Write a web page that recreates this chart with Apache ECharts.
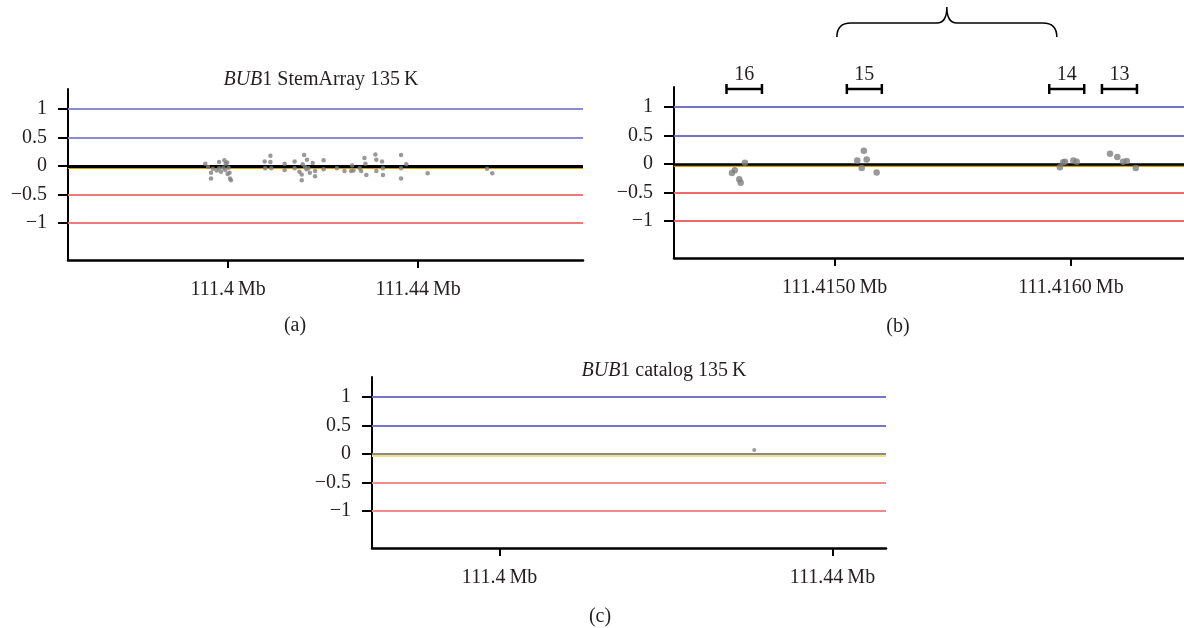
<!DOCTYPE html>
<html>
<head>
<meta charset="utf-8">
<script src="https://cdn.jsdelivr.net/npm/echarts@6/dist/echarts.min.js"></script>
<style>
  html, body { margin: 0; padding: 0; background: #fff; }
  #main { width: 1184px; height: 628px; }
</style>
</head>
<body>
<div id="main"></div>
<script>
// log2 ratio values, positions in Mb
var stemArrayPoints = [
  [111.3952, 0.04], [111.3958, -0.02], [111.3964, -0.12], [111.3964, -0.22], [111.3968, -0.05],
  [111.3976, -0.08], [111.3981, 0.07], [111.3981, -0.04], [111.3985, -0.10], [111.3990, -0.03],
  [111.3992, 0.10], [111.3995, 0.04], [111.3994, -0.07], [111.3998, 0.06], [111.3999, -0.14],
  [111.4001, -0.03], [111.4003, -0.12], [111.4004, -0.22], [111.4006, -0.25],
  [111.4077, 0.08], [111.4078, -0.04], [111.4089, 0.18], [111.4089, 0.07], [111.4091, -0.04],
  [111.4119, 0.04], [111.4119, -0.07], [111.4140, 0.08], [111.4140, -0.04],
  [111.4150, -0.10], [111.4155, -0.15], [111.4155, -0.25], [111.4157, 0.03], [111.4160, 0.19],
  [111.4162, -0.02], [111.4165, -0.06], [111.4166, 0.11], [111.4169, -0.04], [111.4172, -0.12],
  [111.4178, 0.05], [111.4183, -0.09], [111.4183, -0.18], [111.4201, 0.10], [111.4201, -0.06],
  [111.4229, -0.04], [111.4245, -0.09], [111.4259, -0.09], [111.4261, 0.01], [111.4264, -0.08],
  [111.4277, -0.04], [111.4280, -0.09], [111.4287, 0.14], [111.4289, 0.04], [111.4291, -0.16],
  [111.4310, 0.20], [111.4312, 0.11], [111.4312, -0.09], [111.4324, 0.08], [111.4326, -0.04],
  [111.4326, -0.16], [111.4364, 0.19], [111.4364, -0.04], [111.4364, -0.22], [111.4375, 0.03],
  [111.4420, -0.13], [111.4545, -0.05], [111.4556, -0.13]
];
var zoomPoints = [
  [111.414566, -0.16], [111.414578, -0.11], [111.414597, -0.27], [111.414603, -0.33], [111.414621, 0.02],
  [111.415096, 0.06], [111.415115, -0.07], [111.415124, 0.23], [111.415136, 0.08], [111.415178, -0.15],
  [111.415953, -0.06], [111.415967, 0.03], [111.415975, 0.04], [111.416010, 0.06], [111.416024, 0.04],
  [111.416165, 0.18], [111.416196, 0.12], [111.416220, 0.04], [111.416236, 0.05], [111.416274, -0.07]
];
var catalogPoints = [[111.4306, 0.07]];

var exonNames = [16, 15, 14, 13];
var exonStart = [111.414543, 111.415052, 111.415908, 111.416131];
var exonEnd = [111.414693, 111.415200, 111.416056, 111.416279];
var braceSpan = [111.41501, 111.41594];

var yTicks = [1, 0.5, 0, -0.5, -1];
var xTicksA = [111.4, 111.44];
var xTicksB = [111.415, 111.416];
var xTicksC = [111.4, 111.44];
var gainLevels = [1, 0.5];
var lossLevels = [-0.5, -1];
var meanLevel = -0.035;

var FONT = '"Liberation Serif", "DejaVu Serif", serif';
var INK = '#231f20';

var myChart = echarts.init(document.getElementById('main'));

function xAxisFor(idx, min, max, ticks, digits) {
  return {
    type: 'value', gridIndex: idx, min: min, max: max,
    splitLine: { show: false },
    axisLine: { onZero: false, lineStyle: { color: '#000', width: 2.5 } },
    axisTick: { customValues: ticks, length: 8, lineStyle: { color: '#000', width: 2 } },
    axisLabel: {
      customValues: ticks, margin: 20, fontFamily: FONT, fontSize: 20, color: INK,
      formatter: function (v) { return (digits ? v.toFixed(digits) : String(v)) + '\u2009Mb'; }
    }
  };
}
function yAxisFor(idx) {
  return {
    type: 'value', gridIndex: idx, min: -1.65, max: 1.35,
    splitLine: { show: false },
    axisLine: { show: true, lineStyle: { color: '#000', width: 2 } },
    axisTick: { customValues: yTicks, length: 10, lineStyle: { color: '#000', width: 2 } },
    axisLabel: {
      customValues: yTicks, margin: 21, fontFamily: FONT, fontSize: 20, color: INK,
      formatter: function (v) { return String(v).replace('-', '\u2212'); }
    }
  };
}
function levelLines(zeroColor, zeroWidth, meanColor, blue, red) {
  var d = [];
  d.push({ yAxis: meanLevel, lineStyle: { color: meanColor, width: 2, type: 'solid' } });
  d.push({ yAxis: 0, lineStyle: { color: zeroColor, width: zeroWidth, type: 'solid' } });
  gainLevels.forEach(function (v) { d.push({ yAxis: v, lineStyle: { color: blue, width: 2, type: 'solid' } }); });
  lossLevels.forEach(function (v) { d.push({ yAxis: v, lineStyle: { color: red, width: 2, type: 'solid' } }); });
  return { silent: true, symbol: 'none', label: { show: false }, animation: false, data: d };
}

var option = {
  animation: false,
  grid: [
    { left: 68, top: 89, right: 601, bottom: 368 },
    { left: 674, top: 87, right: 0, bottom: 370 },
    { left: 372, top: 377, right: 298, bottom: 80 }
  ],
  xAxis: [
    xAxisFor(0, 111.3663, 111.4747, xTicksA, 0),
    xAxisFor(1, 111.414321, 111.416478, xTicksB, 4),
    xAxisFor(2, 111.38468, 111.44643, xTicksC, 0)
  ],
  yAxis: [yAxisFor(0), yAxisFor(1), yAxisFor(2)],
  graphic: [
    { type: 'text', x: 321, y: 80, style: { text: '{i|BUB}1 StemArray 135\u2009K', font: '20px ' + FONT, fill: INK, align: 'center', verticalAlign: 'middle',
      rich: { i: { fontStyle: 'italic', fontFamily: FONT, fontSize: 20, fill: INK } } } },
    { type: 'text', x: 664, y: 371, style: { text: '{i|BUB}1 catalog 135\u2009K', font: '20px ' + FONT, fill: INK, align: 'center', verticalAlign: 'middle',
      rich: { i: { fontStyle: 'italic', fontFamily: FONT, fontSize: 20, fill: INK } } } },
    { type: 'text', x: 295, y: 326, style: { text: '(a)', font: '20px ' + FONT, fill: INK, align: 'center', verticalAlign: 'middle' } },
    { type: 'text', x: 898, y: 327, style: { text: '(b)', font: '20px ' + FONT, fill: INK, align: 'center', verticalAlign: 'middle' } },
    { type: 'text', x: 600, y: 617, style: { text: '(c)', font: '20px ' + FONT, fill: INK, align: 'center', verticalAlign: 'middle' } }
  ],
  series: [
    {
      type: 'scatter', xAxisIndex: 0, yAxisIndex: 0, data: stemArrayPoints,
      symbolSize: 4.5, itemStyle: { color: '#7f7f7f' }, z: 5,
      markLine: levelLines('#000', 3, '#d4a20f', '#8c8cd2', '#f07a7a')
    },
    {
      type: 'scatter', xAxisIndex: 1, yAxisIndex: 1, data: zoomPoints,
      symbolSize: 6.5, itemStyle: { color: '#7f7f7f' }, z: 5,
      markLine: levelLines('#000', 2.5, '#d4a20f', '#7474c4', '#f26868')
    },
    {
      type: 'scatter', xAxisIndex: 2, yAxisIndex: 2, data: catalogPoints,
      symbolSize: 4, itemStyle: { color: '#7f7f7f' }, z: 5,
      markLine: levelLines('#8a8a8a', 2, '#f3df86', '#7676c8', '#f28a8a')
    },
    {
      type: 'custom', xAxisIndex: 1, yAxisIndex: 1, clip: false, silent: true,
      data: exonNames.map(function (n, i) { return [exonStart[i], exonEnd[i], n]; }),
      encode: { x: [0, 1] },
      renderItem: function (params, api) {
        var a = api.coord([api.value(0), 1.35]);
        var b = api.coord([api.value(1), 1.35]);
        var y = a[1] + 2;
        var st = { stroke: '#000', lineWidth: 2.5 };
        return {
          type: 'group',
          children: [
            { type: 'line', shape: { x1: a[0], y1: y, x2: b[0], y2: y }, style: st },
            { type: 'line', shape: { x1: a[0], y1: y - 5, x2: a[0], y2: y + 5 }, style: st },
            { type: 'line', shape: { x1: b[0], y1: y - 5, x2: b[0], y2: y + 5 }, style: st },
            { type: 'text', style: { text: String(api.value(2)), x: (a[0] + b[0]) / 2, y: y - 14,
              align: 'center', verticalAlign: 'middle', font: '20px ' + FONT, fill: INK } }
          ]
        };
      }
    },
    {
      type: 'custom', xAxisIndex: 1, yAxisIndex: 1, clip: false, silent: true,
      data: [braceSpan],
      encode: { x: [0, 1] },
      renderItem: function (params, api) {
        var a = api.coord([api.value(0), 1.35]);
        var b = api.coord([api.value(1), 1.35]);
        var top = a[1];
        var x1 = a[0], x2 = b[0], xm = (x1 + x2) / 2;
        var yEnd = top - 50, yH = top - 64, yTip = top - 80;
        var path = 'M' + x1 + ',' + yEnd +
          ' Q' + x1 + ',' + yH + ' ' + (x1 + 14) + ',' + yH +
          ' L' + (xm - 10) + ',' + yH +
          ' Q' + xm + ',' + yH + ' ' + xm + ',' + yTip +
          ' Q' + xm + ',' + yH + ' ' + (xm + 10) + ',' + yH +
          ' L' + (x2 - 14) + ',' + yH +
          ' Q' + x2 + ',' + yH + ' ' + x2 + ',' + yEnd;
        return { type: 'path', shape: { pathData: path }, style: { stroke: '#000', lineWidth: 1.5, fill: null } };
      }
    }
  ]
};
myChart.setOption(option);
</script>
</body>
</html>
